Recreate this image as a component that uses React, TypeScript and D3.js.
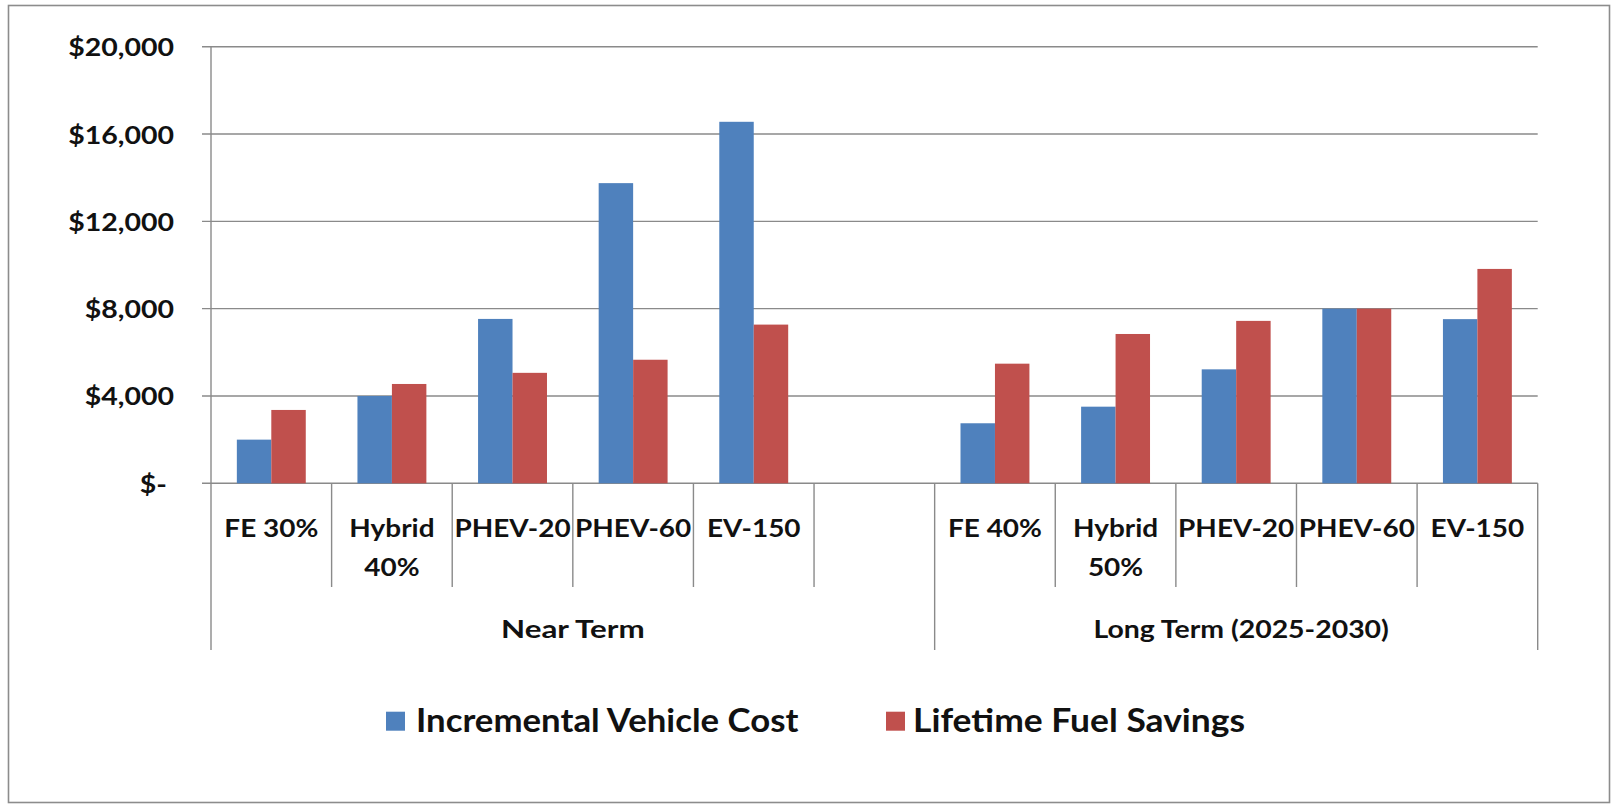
import React from "react";
import * as d3 from "d3";

// ---------------- DATA ----------------
const categoryLabels: string[][] = [
  ["FE 30%"],
  ["Hybrid", "40%"],
  ["PHEV-20"],
  ["PHEV-60"],
  ["EV-150"],
  [""],
  ["FE 40%"],
  ["Hybrid", "50%"],
  ["PHEV-20"],
  ["PHEV-60"],
  ["EV-150"],
];
const groupLabels = ["Near Term", "Long Term (2025-2030)"];
const groupSizes = [6, 5];
const seriesNames = ["Incremental Vehicle Cost", "Lifetime Fuel Savings"];
const incrementalVehicleCost: (number | null)[] = [2000, 4000, 7530, 13750, 16560, null, 2750, 3510, 5220, 8000, 7520];
const lifetimeFuelSavings: (number | null)[] = [3360, 4550, 5060, 5660, 7270, null, 5480, 6840, 7440, 8000, 9820];
const yTicks = [0, 4000, 8000, 12000, 16000, 20000];
const seriesColors = ["#4F81BD", "#C0504D"];

// ---------------- LAYOUT ----------------
const W = 1612;
const H = 805;
const plotLeft = 211;
const plotRight = 1537.7;
const plotTop = 46.7;
const plotBottom = 483.3;
const FONT = "Lato, 'Open Sans', sans-serif";
const SX = 1.14;
const LSX = 1.07;
const GRID = "#8a8a8a";

function T(props: {
  x: number;
  y: number;
  anchor?: "start" | "middle" | "end";
  size: number;
  sx?: number;
  children: React.ReactNode;
}) {
  const { x, y, anchor = "middle", size, sx = SX, children } = props;
  return (
    <text
      transform={`translate(${x},${y}) scale(${sx},1)`}
      textAnchor={anchor}
      fontFamily={FONT}
      fontWeight={700}
      fontSize={size}
      fill="#111"
    >
      {children}
    </text>
  );
}

export default function App() {
  const n = categoryLabels.length;
  const x = d3
    .scaleBand<number>()
    .domain(d3.range(n))
    .range([plotLeft, plotRight])
    .paddingInner(0)
    .paddingOuter(0);
  const bw = x.bandwidth();
  const xs = d3
    .scaleBand<number>()
    .domain([0, 1])
    .range([0, bw])
    .paddingInner(0)
    .paddingOuter(0.75);
  const y = d3.scaleLinear().domain([0, 20000]).range([plotBottom, plotTop]);
  const fmt = (v: number) => (v === 0 ? "$-" : d3.format("$,.0f")(v));

  const series = [incrementalVehicleCost, lifetimeFuelSavings];

  const groupStarts: number[] = [];
  let acc = 0;
  groupSizes.forEach((s) => {
    groupStarts.push(acc);
    acc += s;
  });
  const groupBoundaryIdx = new Set<number>([...groupStarts, n]);

  const catSepBottom = 587;
  const groupSepBottom = 650;

  return (
    <svg
      width={W}
      height={H}
      style={{ position: "absolute", left: 0, top: 0, display: "block", background: "#fff" }}
    >
      <rect x={0} y={0} width={W} height={H} fill="#fff" />
      <rect x={8.5} y={5.5} width={1601} height={797} fill="none" stroke="#8c8c8c" strokeWidth={1.6} />

      {yTicks.map((t) => (
        <g key={t}>
          <line x1={202} x2={plotRight} y1={y(t)} y2={y(t)} stroke={GRID} strokeWidth={1.4} />
          <T x={t === 0 ? 167 : 174} y={y(t) + 9.5} anchor="end" size={25}>
            {fmt(t)}
          </T>
        </g>
      ))}

      <line x1={plotLeft} x2={plotLeft} y1={plotTop} y2={plotBottom} stroke={GRID} strokeWidth={1.4} />

      {series.map((vals, si) =>
        vals.map((v, i) =>
          v == null ? null : (
            <rect
              key={`${si}-${i}`}
              x={(x(i) as number) + (xs(si) as number)}
              y={y(v)}
              width={xs.bandwidth()}
              height={plotBottom - y(v)}
              fill={seriesColors[si]}
            />
          )
        )
      )}

      {d3.range(n + 1).map((i) => {
        const xx = i === n ? plotRight : (x(i) as number);
        const bottom = groupBoundaryIdx.has(i) ? groupSepBottom : catSepBottom;
        return <line key={`sep${i}`} x1={xx} x2={xx} y1={plotBottom} y2={bottom} stroke={GRID} strokeWidth={1.4} />;
      })}

      {categoryLabels.map((lines, i) =>
        lines.map((ln, li) =>
          ln ? (
            <T key={`cl${i}-${li}`} x={(x(i) as number) + bw / 2} y={536.7 + li * 39.3} size={24.5}>
              {ln}
            </T>
          ) : null
        )
      )}

      {groupLabels.map((g, gi) => {
        const s = groupStarts[gi];
        const e = s + groupSizes[gi];
        const x0 = x(s) as number;
        const x1 = e >= n ? plotRight : (x(e) as number);
        return (
          <T key={g} x={(x0 + x1) / 2 + (gi === 1 ? 5 : 0)} y={638.3} size={24.5} sx={gi === 0 ? 1.28 : 1.16}>
            {g}
          </T>
        );
      })}

      <rect x={386} y={711.7} width={19} height={19} fill={seriesColors[0]} />
      <T x={416} y={731.5} anchor="start" size={32.5} sx={LSX}>
        {seriesNames[0]}
      </T>
      <rect x={886} y={711.7} width={19} height={19} fill={seriesColors[1]} />
      <T x={913} y={731.5} anchor="start" size={32.5} sx={1.09}>
        {seriesNames[1]}
      </T>
    </svg>
  );
}
